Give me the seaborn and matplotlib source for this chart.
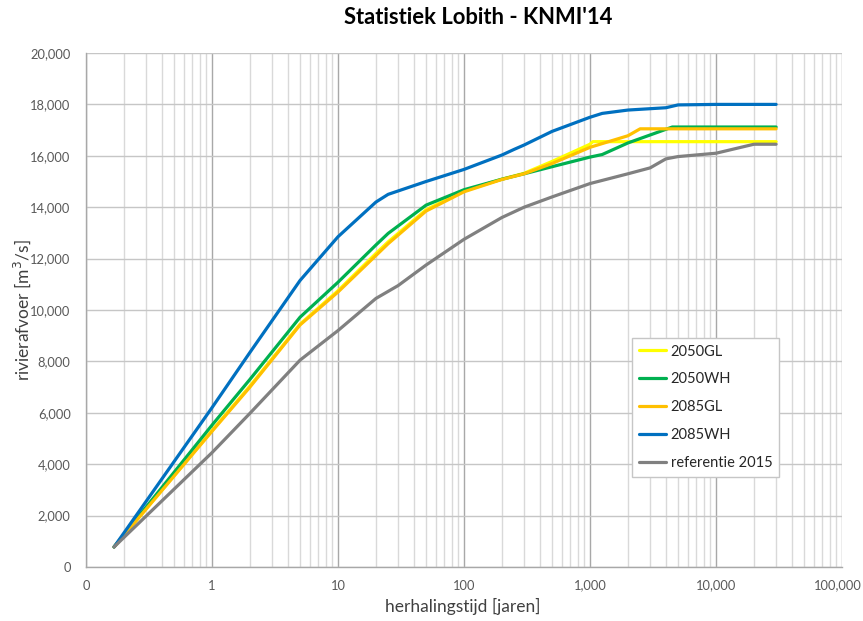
import numpy as np
import pandas as pd
import matplotlib
matplotlib.use("Agg")
import matplotlib.pyplot as plt
import matplotlib.transforms as mtransforms
import seaborn as sns
from matplotlib.ticker import FixedLocator, FuncFormatter, NullFormatter, LogLocator

# Return periods (years) and discharges (m3/s) per scenario
names = ["2050GL", "2050WH", "2085GL", "2085WH", "referentie 2015"]
colors = ["#FFFF00", "#00B050", "#FFC000", "#0070C0", "#808080"]

t_2050gl = [0.167, 1, 2, 5, 10, 20, 25, 50, 100, 200, 300, 500, 1000, 1050, 30000]
q_2050gl = [780, 5310, 7040, 9450, 10750, 12200, 12650, 13900, 14630, 15090, 15320, 15780, 16450, 16550, 16550]

t_2050wh = [0.167, 1, 2, 5, 10, 20, 25, 50, 100, 200, 300, 1000, 1250, 2000, 4500, 30000]
q_2050wh = [780, 5520, 7300, 9720, 11080, 12530, 12980, 14080, 14680, 15090, 15300, 15950, 16050, 16500, 17120, 17120]

t_2085gl = [0.167, 1, 2, 5, 10, 20, 25, 50, 100, 200, 300, 500, 1000, 2000, 2500, 30000]
q_2085gl = [780, 5280, 7000, 9420, 10700, 12120, 12580, 13850, 14600, 15080, 15300, 15700, 16330, 16780, 17050, 17050]

t_2085wh = [0.167, 1, 2, 5, 10, 20, 25, 50, 100, 200, 250, 300, 500, 1000, 1250, 2000, 4000, 5000, 10000, 30000]
q_2085wh = [780, 6200, 8350, 11150, 12850, 14200, 14500, 15000, 15470, 16030, 16250, 16420, 16950, 17500, 17650, 17780, 17870, 17980, 18000, 18000]

t_ref = [0.167, 1, 2, 5, 10, 20, 30, 50, 100, 200, 300, 500, 1000, 2000, 3000, 4000, 5000, 10000, 20000, 30000]
q_ref = [780, 4450, 5980, 8050, 9200, 10450, 10950, 11750, 12750, 13600, 14000, 14400, 14920, 15300, 15530, 15880, 15970, 16100, 16450, 16450]

x_ticks = [0.1, 1, 10, 100, 1000, 10000, 100000]
y_ticks = list(range(0, 20001, 2000))

series = {
    "2050GL": (t_2050gl, q_2050gl),
    "2050WH": (t_2050wh, q_2050wh),
    "2085GL": (t_2085gl, q_2085gl),
    "2085WH": (t_2085wh, q_2085wh),
    "referentie 2015": (t_ref, q_ref),
}
df = pd.concat(
    [pd.DataFrame({"T": t, "Q": q, "serie": n}) for n, (t, q) in series.items()],
    ignore_index=True,
)

sns.set_style("white")
plt.rcParams["font.family"] = ["Lato", "DejaVu Sans"]

fig = plt.figure(figsize=(8.63, 6.21), dpi=100)
ax = fig.add_axes([86 / 863, 1 - 567 / 621, (842 - 86) / 863, (567 - 53) / 621])

sns.lineplot(
    data=df, x="T", y="Q", hue="serie", hue_order=names,
    palette=dict(zip(names, colors)), estimator=None, sort=False,
    linewidth=2.3, ax=ax, solid_capstyle="round", solid_joinstyle="round",
)

ax.set_xscale("log")
ax.set_xlim(0.1, 100000)
ax.set_ylim(0, 20000)

ax.xaxis.set_major_locator(FixedLocator(x_ticks))
ax.xaxis.set_minor_locator(LogLocator(base=10, subs=np.arange(2, 10), numticks=20))
ax.xaxis.set_major_formatter(FuncFormatter(lambda v, p: f"{v:,.0f}"))
ax.xaxis.set_minor_formatter(NullFormatter())
ax.yaxis.set_major_locator(FixedLocator(y_ticks))
ax.yaxis.set_major_formatter(FuncFormatter(lambda v, p: f"{v:,.0f}"))

ax.set_axisbelow(True)
ax.grid(which="major", axis="y", color="#c6c6c6", linewidth=1.0)
ax.grid(which="major", axis="x", color="#a8a8a8", linewidth=1.0)
ax.grid(which="minor", axis="x", color="#d9d9d9", linewidth=1.0)

for side in ["top", "right"]:
    ax.spines[side].set_visible(False)
for side in ["left", "bottom"]:
    ax.spines[side].set_color("#a8a8a8")
    ax.spines[side].set_linewidth(1.0)

ax.tick_params(axis="both", which="major", direction="out", length=5, width=1,
               color="#a8a8a8", labelsize=9.3, labelcolor="#595959", pad=6)
ax.tick_params(axis="x", which="minor", length=0)
ax.tick_params(axis="x", which="major", length=4, pad=5)

# keep the last x tick label inside the canvas
fig.canvas.draw()
last = ax.get_xticklabels()[-1]
last.set_transform(last.get_transform() + mtransforms.ScaledTranslation(-4 / 100, 0, fig.dpi_scale_trans))

ax.set_xlabel("")
ax.set_ylabel("")
fig.text(463 / 863, 1 - 606 / 621, "herhalingstijd [jaren]", ha="center", va="center",
         fontsize=12.5, color="#404040")
fig.text(22 / 863, 1 - 310 / 621, "rivierafvoer [m$^3$/s]", ha="center", va="center",
         rotation=90, fontsize=12.5, color="#404040")

fig.text(478 / 863, 1 - 18 / 621, "Statistiek Lobith - KNMI'14", ha="center", va="center",
         fontsize=15.8, fontweight="bold", color="#000000")

handles, labels = ax.get_legend_handles_labels()
leg = ax.legend(handles, labels, loc="upper left",
                bbox_to_anchor=(632 / 863, 1 - 338 / 621), bbox_transform=fig.transFigure,
                frameon=True, fancybox=False, framealpha=1, edgecolor="#c6c6c6",
                fontsize=10.5, handlelength=1.9, handletextpad=0.3, labelspacing=0.95,
                borderpad=0.45, borderaxespad=0)
leg.get_frame().set_linewidth(1.0)
for txt in leg.get_texts():
    txt.set_color("#262626")

fig.savefig("out.png", dpi=100)
